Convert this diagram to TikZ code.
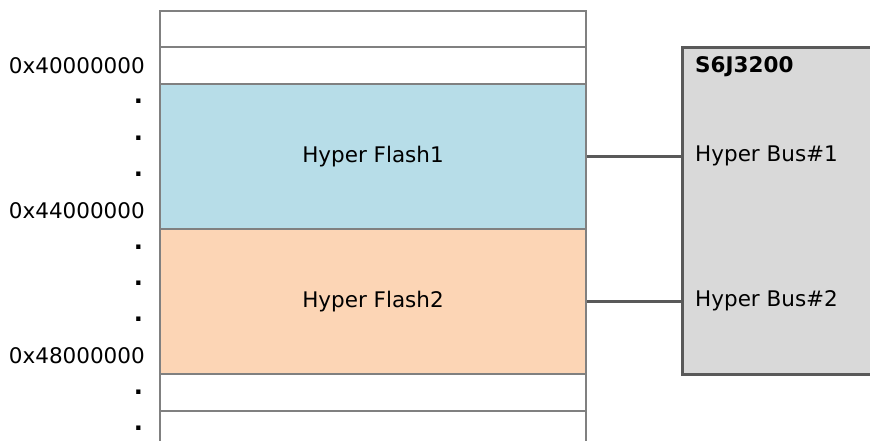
\documentclass[tikz,border=0pt]{standalone}
\usepackage{fontspec}
\setmainfont{DejaVu Sans}
\usepackage{xcolor}
\usepackage{tikz}
\usetikzlibrary{positioning, calc}
\definecolor{rowgray}{RGB}{128, 128, 128}
\definecolor{busgray}{RGB}{89, 89, 89}
\definecolor{chipfill}{RGB}{217, 217, 217}
\definecolor{flashblue}{RGB}{183, 221, 232}
\definecolor{flashorange}{RGB}{252, 213, 181}

\begin{document}
\begin{tikzpicture}[
    x=1pt, y=-1pt,
    lbl/.style={font=\fontsize{21.5}{25}\selectfont, inner sep=0pt},
    memrow/.style={rectangle, draw=rowgray, line width=2pt, minimum width=426pt, minimum height=36.5pt, inner sep=0pt, anchor=north west},
    flash/.style={memrow, minimum height=145pt, font=\fontsize{21.5}{25}\selectfont},
    addr/.style={lbl, anchor=east},
    dotmark/.style={inner sep=0pt, anchor=center, font=\fontsize{24}{25}\selectfont\bfseries},
    bus/.style={line width=3pt, busgray}
]

\clip (0,0) rectangle (870,441);

% Memory map
\node[memrow] (r0) at (159,10) {};
\node[memrow] (r1) at (159,46.5) {};
\node[flash, fill=flashblue] (flash1) at (159,83) {Hyper Flash1};
\node[flash, fill=flashorange] (flash2) at (159,228) {Hyper Flash2};
\node[memrow] (r2) at (159,373) {};
\node[memrow, minimum height=60pt] (r3) at (159,410) {};

% Addresses
\node[addr] (a40) at (145,66) {0x40000000};
\node[addr] (a44) at (145,211) {0x44000000};
\node[addr] (a48) at (145,356) {0x48000000};
\foreach \y in {101,138,174,247,283,319,392,428}
    \node[dotmark] at (138.5,\y) {.};

% Controller
\node[rectangle, draw=busgray, line width=3pt, fill=chipfill, minimum width=220pt, minimum height=327pt, anchor=north west] (s6j) at (681,46) {};
\node[lbl, anchor=base west, font=\fontsize{21.5}{25}\selectfont\bfseries] (chip) at (695,73) {S6J3200};
\node[lbl, anchor=west] (bus1) at (695,155.5) {Hyper Bus\#1};
\node[lbl, anchor=west] (bus2) at (695,300.5) {Hyper Bus\#2};

% Buses
\draw[bus] (flash1.east) -- (flash1.east -| s6j.west);
\draw[bus] (flash2.east) -- (flash2.east -| s6j.west);

\end{tikzpicture}
\end{document}
